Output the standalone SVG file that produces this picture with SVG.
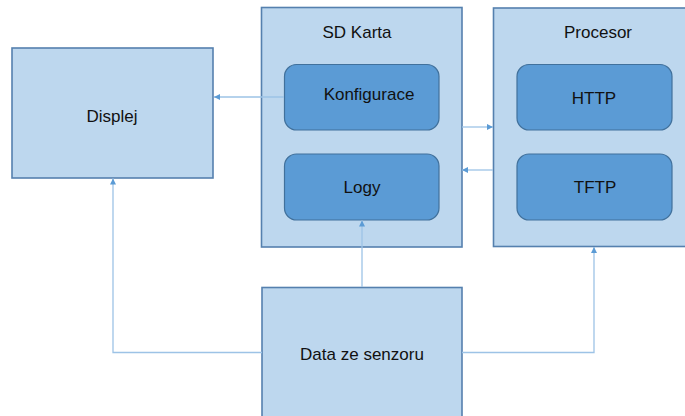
<svg xmlns="http://www.w3.org/2000/svg" width="685" height="416" viewBox="0 0 685 416">
  <style>
    .outer { fill: #BDD7EE; stroke: #5580AE; stroke-width: 1.6; }
    .inner { fill: #5B9BD5; stroke: #41719C; stroke-width: 1.2; }
    .label { font-family: "Liberation Sans", Arial, sans-serif; font-size: 17px; fill: #111; text-anchor: middle; }
    .conn { fill: none; stroke: #9DC3E6; stroke-width: 1.3; }
  </style>
  <defs>
    <marker id="arrow" viewBox="0 0 10 10" refX="10" refY="5" markerWidth="6" markerHeight="6" markerUnits="userSpaceOnUse" orient="auto">
      <path d="M0,0 L10,5 L0,10 z" fill="#5B9BD5"/>
    </marker>
  </defs>
  <rect width="685" height="416" fill="#FFFFFF"/>

  <g id="displej">
    <rect class="outer" x="12" y="48" width="201" height="130"/>
    <text class="label" x="112" y="122">Displej</text>
  </g>

  <g id="sd-karta">
    <rect class="outer" x="261.5" y="7.5" width="200.5" height="239.5"/>
    <text class="label" x="357" y="38">SD Karta</text>
    <g id="konfigurace">
      <rect class="inner" x="284.5" y="64.5" width="154.5" height="65.5" rx="12"/>
      <text class="label" x="369" y="100">Konfigurace</text>
    </g>
    <g id="logy">
      <rect class="inner" x="284.5" y="154" width="154.5" height="66" rx="12"/>
      <text class="label" x="362" y="193">Logy</text>
    </g>
  </g>

  <g id="procesor">
    <rect class="outer" x="493.5" y="8" width="200" height="238.5"/>
    <text class="label" x="598" y="38">Procesor</text>
    <g id="http">
      <rect class="inner" x="517" y="64.5" width="155" height="65.5" rx="12"/>
      <text class="label" x="594" y="104">HTTP</text>
    </g>
    <g id="tftp">
      <rect class="inner" x="517" y="154" width="155" height="66" rx="12"/>
      <text class="label" x="595" y="193">TFTP</text>
    </g>
  </g>

  <g id="data-ze-senzoru">
    <rect class="outer" x="262" y="287.5" width="200" height="140"/>
    <text class="label" x="362" y="360">Data ze senzoru</text>
  </g>

  <g id="connectors">
    <line class="conn" x1="284" y1="97" x2="214" y2="97" marker-end="url(#arrow)"/>
    <line class="conn" x1="462" y1="127" x2="493" y2="127" marker-end="url(#arrow)"/>
    <line class="conn" x1="493" y1="170" x2="462" y2="170" marker-end="url(#arrow)"/>
    <line class="conn" x1="362" y1="287" x2="362" y2="220.5" marker-end="url(#arrow)"/>
    <polyline class="conn" points="262,352.5 113,352.5 113,178.5" marker-end="url(#arrow)"/>
    <polyline class="conn" points="462,352.5 594,352.5 594,247" marker-end="url(#arrow)"/>
  </g>
</svg>
